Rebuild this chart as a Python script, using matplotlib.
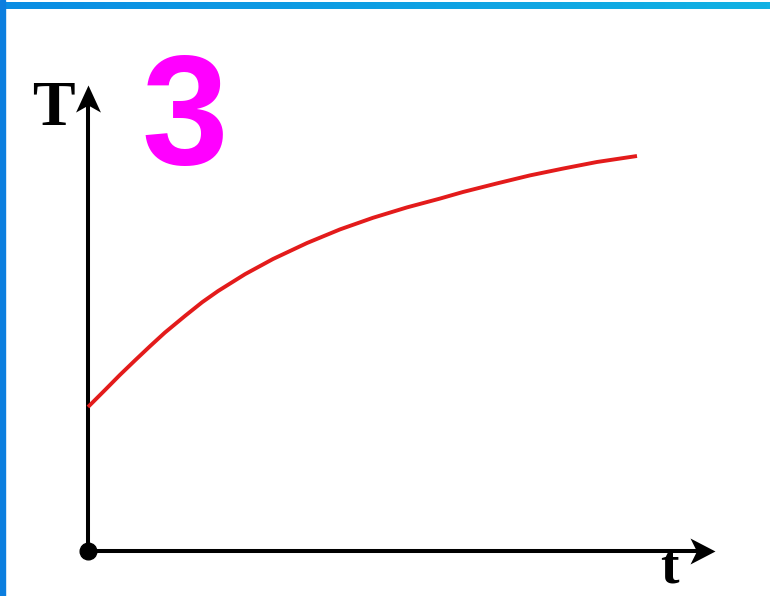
import numpy as np
import matplotlib.pyplot as plt
from matplotlib.path import Path
from matplotlib.markers import MarkerStyle
from matplotlib.patches import Rectangle
from matplotlib.colors import LinearSegmentedColormap

# courbe T(t)
t = [0, 0.31, 0.58, 0.86, 1.13, 1.40, 1.77, 2.08, 2.37, 2.86, 3.37,
     3.99, 4.59, 5.19, 5.81, 6.41, 6.83, 7.45, 8.05, 8.65, 9.27, 10.0]
T = [36.0, 40.25, 44.0, 47.7, 51.2, 54.6, 58.8, 62.2, 65.0, 69.2, 73.0,
     77.0, 80.4, 83.3, 85.9, 88.1, 89.75, 91.9, 93.9, 95.6, 97.25, 98.75]

t_max = 11.42   # pointe de la fleche horizontale
T_max = 116.5   # pointe de la fleche verticale

W, H = 770, 596
fig = plt.figure(figsize=(W / 100, H / 100), dpi=100)
fig.patch.set_facecolor('white')

# bordures bleues (haut en degrade, gauche unie)
top = fig.add_axes([0, 1 - 9 / H, 1, 7 / H])
grad = np.linspace(0, 1, 256).reshape(1, -1)
cm = LinearSegmentedColormap.from_list('b', ['#0a8de3', '#12b2e4'])
top.imshow(grad, aspect='auto', cmap=cm, extent=[0, 1, 0, 1])
top.axis('off')
fig.patches.append(Rectangle((0, 0), 5 / W, 1, transform=fig.transFigure,
                             color='#0b7edf', zorder=5))

ax = fig.add_axes([88 / W, 45 / H, 11.8 * 54.9 / W, 125 * 4 / H])
ax.set_xlim(0, 11.8)
ax.set_ylim(0, 125)
ax.axis('off')

# axes avec fleches
ax.plot([0, 0], [0, T_max - 3], color='black', lw=2.9, clip_on=False, solid_capstyle='butt')
ax.plot([0, t_max - 0.2], [0, 0], color='black', lw=2.9, clip_on=False, solid_capstyle='butt')

up = Path([(0, 0), (-0.46, -1), (0, -0.74), (0.46, -1), (0, 0)],
          [Path.MOVETO, Path.LINETO, Path.LINETO, Path.LINETO, Path.CLOSEPOLY])
right = Path([(0, 0), (-1, 0.52), (-0.74, 0), (-1, -0.52), (0, 0)],
             [Path.MOVETO, Path.LINETO, Path.LINETO, Path.LINETO, Path.CLOSEPOLY])
ax.plot([0], [T_max], marker=MarkerStyle(up), ms=39, color='black', mew=0, clip_on=False)
ax.plot([t_max], [0], marker=MarkerStyle(right), ms=36, color='black', mew=0, clip_on=False)
ax.plot([0], [0], 'o', ms=12, color='black', clip_on=False)

ax.plot(t, T, color='#e31b1b', lw=2.8, solid_capstyle='butt',
        solid_joinstyle='round', clip_on=False)

fig.text(53 / W, 1 - 125 / H, 'T', ha='center', va='baseline',
         family=['Liberation Serif', 'DejaVu Serif'], weight='bold', size=46)
fig.text(669 / W, 1 - 583 / H, 't', ha='center', va='baseline',
         family=['Liberation Serif', 'DejaVu Serif'], weight='bold', size=40)
fig.text(185 / W, 1 - 164 / H, '3', ha='center', va='baseline', color='#ff00ff',
         family=['Liberation Sans'], weight='bold', size=112)

fig.savefig('out.png', dpi=100)
